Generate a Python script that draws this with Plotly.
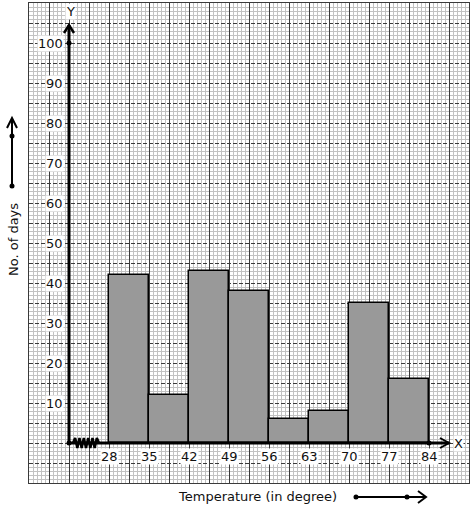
import plotly.graph_objects as go

# ---- data ----
class_starts = [28, 35, 42, 49, 56, 63, 70, 77]
class_width = 7
days = [42, 12, 43, 38, 6, 8, 35, 16]
x_tick_labels = [28, 35, 42, 49, 56, 63, 70, 77, 84]
y_tick_labels = [10, 20, 30, 40, 50, 60, 70, 80, 90, 100]

W, H = 474, 510
ML, MR, MT, MB = 29, 5, 3, 27
PW, PH = W - ML - MR, H - MT - MB
X0, X1 = 14, 91
Y0, Y1 = -10, 110
XO = 21  # x-value at the drawn y-axis

def xpx(v):  # data units per pixel
    return v * (X1 - X0) / PW

def ypx(v):
    return v * (Y1 - Y0) / PH

def px_paper(x, y):
    return (x - ML) / PW, (H - MB - y) / PH

FONT = "DejaVu Sans"
INK = "#111111"

fig = go.Figure()
fig.add_trace(go.Bar(
    x=[s + class_width / 2 for s in class_starts], y=days, width=class_width,
    marker=dict(color="#999999", line=dict(color="black", width=1.5)),
    hoverinfo="skip", showlegend=False))

# zigzag break on x axis
zx, zy = [], []
n = 12
za, zb = XO + xpx(4), XO + xpx(30)
for i in range(n + 1):
    zx.append(za + (zb - za) * i / n)
    zy.append(0 if i in (0, n) else (ypx(5) if i % 2 else -ypx(5)))
fig.add_trace(go.Scatter(x=zx, y=zy, mode="lines", line=dict(color="black", width=2.5),
                         hoverinfo="skip", showlegend=False))

# dots on axes
fig.add_trace(go.Scatter(x=[XO, XO, x_tick_labels[-1]], y=[0, 100, 0], mode="markers",
                         marker=dict(color="black", size=5), cliponaxis=False,
                         hoverinfo="skip", showlegend=False))

shapes = []
y_top = ypx(443 - 25)
x_end = XO + xpx(449 - 69)
# y axis
shapes.append(dict(type="line", xref="x", yref="y", x0=XO, x1=XO, y0=0, y1=y_top,
                   line=dict(color="black", width=3)))
shapes.append(dict(type="path", xref="x", yref="y",
                   path=f"M{XO - xpx(5)},{y_top - ypx(8)} L{XO},{y_top} L{XO + xpx(5)},{y_top - ypx(8)}",
                   line=dict(color="black", width=2.5)))
# x axis
shapes.append(dict(type="line", xref="x", yref="y", x0=XO, x1=x_end, y0=0, y1=0,
                   line=dict(color="black", width=3)))
shapes.append(dict(type="path", xref="x", yref="y",
                   path=f"M{x_end - xpx(9)},{ypx(5)} L{x_end},0 L{x_end - xpx(9)},{-ypx(5)}",
                   line=dict(color="black", width=2)))

# left arrow (outside plot)
ax0, ay0 = px_paper(12, 186)
ax1, ay1 = px_paper(12, 118)
_, aym = px_paper(12, 136)
shapes.append(dict(type="line", xref="paper", yref="paper", x0=ax0, x1=ax1, y0=ay0, y1=ay1,
                   line=dict(color="black", width=2)))
hl, hy = px_paper(7, 128)
hr, _ = px_paper(17, 128)
shapes.append(dict(type="path", xref="paper", yref="paper",
                   path=f"M{hl},{hy} L{ax1},{ay1} L{hr},{hy}", line=dict(color="black", width=2)))
# bottom arrow
bx0, by = px_paper(356, 497)
bx1, _ = px_paper(426, 497)
bxm, _ = px_paper(407, 497)
shapes.append(dict(type="line", xref="paper", yref="paper", x0=bx0, x1=bx1, y0=by, y1=by,
                   line=dict(color="black", width=2)))
tx, ty1 = px_paper(418, 491)
_, ty2 = px_paper(418, 503)
shapes.append(dict(type="path", xref="paper", yref="paper",
                   path=f"M{tx},{ty1} L{bx1},{by} L{tx},{ty2}", line=dict(color="black", width=2)))
for (cx, cy) in [(ax0, ay0), (ax0, aym), (bx0, by), (bxm, by)]:
    shapes.append(dict(type="circle", xref="paper", yref="paper", xsizemode="pixel",
                       ysizemode="pixel", xanchor=cx, yanchor=cy, x0=-2.5, x1=2.5, y0=-2.5, y1=2.5,
                       fillcolor="black", line=dict(color="black", width=0)))

ann = []
for v in y_tick_labels:
    ann.append(dict(x=XO - xpx(5), y=v, xref="x", yref="y", text=str(v), showarrow=False,
                    xanchor="right", yanchor="middle", bgcolor="white", borderpad=0,
                    font=dict(family=FONT, size=13, color=INK)))
for v in x_tick_labels:
    ann.append(dict(x=v, y=-ypx(13), xref="x", yref="y", text=str(v), showarrow=False,
                    xanchor="center", yanchor="middle", bgcolor="white", borderpad=0,
                    font=dict(family=FONT, size=13, color=INK)))
ann.append(dict(x=XO + xpx(1), y=ypx(443 - 11), xref="x", yref="y", text="Y", showarrow=False,
                xanchor="center", yanchor="middle",
                bgcolor="white", borderpad=0, font=dict(family=FONT, size=13, color=INK)))
ann.append(dict(x=XO + xpx(458 - 69), y=0, xref="x", yref="y", text="X", showarrow=False,
                xanchor="center", yanchor="middle",
                bgcolor="white", borderpad=0, font=dict(family=FONT, size=13, color=INK)))
lx, ly = px_paper(13, 240)
ann.append(dict(x=lx, y=ly, xref="paper", yref="paper", text="No. of days", textangle=-90,
                xanchor="center", yanchor="middle",
                showarrow=False, font=dict(family=FONT, size=13, color=INK)))
tx2, ty3 = px_paper(257, 496)
ann.append(dict(x=tx2, y=ty3, xref="paper", yref="paper", text="Temperature (in degree)",
                xanchor="center", yanchor="middle",
                showarrow=False, font=dict(family=FONT, size=13, color=INK)))

fig.update_layout(
    width=W, height=H, margin=dict(l=ML, r=MR, t=MT, b=MB),
    paper_bgcolor="white", plot_bgcolor="white",
    shapes=shapes, annotations=ann, bargap=0,
    xaxis=dict(range=[X0, X1], tick0=X0, dtick=3.5, showticklabels=False, ticks="",
               showgrid=True, gridcolor="#3a3a3a", gridwidth=1, zeroline=False,
               showline=True, mirror=True, linecolor="#3a3a3a", linewidth=1,
               minor=dict(tick0=X0, dtick=0.7, showgrid=True, gridcolor="#c2c2c2", gridwidth=1,
                          griddash="solid")),
    yaxis=dict(range=[Y0, Y1], tick0=Y0, dtick=5, showticklabels=False, ticks="",
               showgrid=True, gridcolor="#3a3a3a", gridwidth=1, griddash="4px,2px", zeroline=False,
               showline=True, mirror=True, linecolor="#3a3a3a", linewidth=1,
               minor=dict(tick0=Y0, dtick=1, showgrid=True, gridcolor="#c2c2c2", gridwidth=1,
                          griddash="solid")),
)

fig.write_html("out.html", config={"displayModeBar": False},
               post_script="document.body.style.margin='0';document.body.style.overflow='hidden';")
